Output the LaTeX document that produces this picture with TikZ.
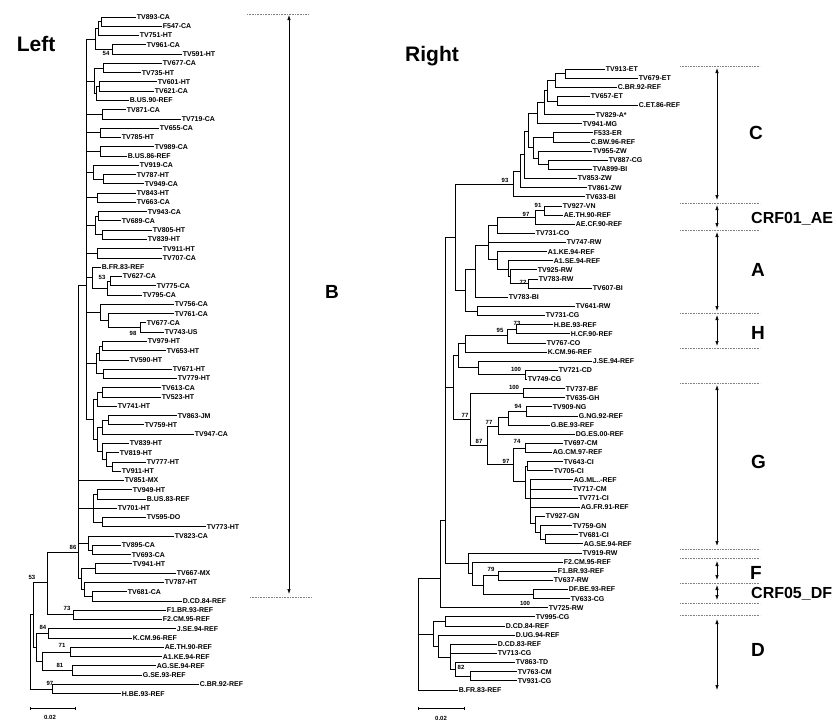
\documentclass[tikz,border=0pt]{standalone}
\usepackage{fontspec}
\setmainfont{Liberation Sans}
\usetikzlibrary{arrows.meta}
\newcommand\LY[1]{(17+9.27*(#1-1))}
\newcommand\RY[1]{(69+9.132*(#1-1))}
\tikzset{
  tip/.style={anchor=west,inner sep=0.7pt,font=\bfseries\fontsize{7}{8}\selectfont},
  boot/.style={inner sep=0pt,font=\bfseries\fontsize{6}{7}\selectfont},
  br/.style={line width=0.9pt},
  brk/.style={line width=0.7pt,{Latex[length=5pt,width=3.5pt]}-{Latex[length=5pt,width=3.5pt]}},
  dots/.style={densely dotted,line width=0.6pt,gray},
  clade/.style={anchor=west,inner sep=0pt,font=\bfseries\fontsize{19}{20}\selectfont},
  cladesm/.style={anchor=west,inner sep=0pt,font=\bfseries\fontsize{16}{18}\selectfont},
  title/.style={inner sep=0pt,font=\bfseries\fontsize{21}{22}\selectfont},
  sbar/.style={line width=0.9pt,{Bar[width=3pt]}-{Bar[width=3pt]}},
  stxt/.style={inner sep=0pt,font=\bfseries\fontsize{6}{7}\selectfont}
}
\begin{document}
\begin{tikzpicture}[x=1pt,y=-1pt]
\useasboundingbox (0,0) rectangle (837,723);
\fill[white] (0,0) rectangle (837,723);
\node[title] (tL) at (36,44) {Left};
\node[title] (tR) at (432,56) {Right};
% ---------------- LEFT TREE ----------------
\foreach \i/\x/\t in {1/136/TV893-CA,2/162/F547-CA,3/139/TV751-HT,4/146/TV961-CA,5/182/TV591-HT,
 6/162/TV677-CA,7/141/TV735-HT,8/157/TV601-HT,9/154/TV621-CA,10/129/B.US.90-REF,
 11/126/TV871-CA,12/181/TV719-CA,13/159/TV655-CA,14/121/TV785-HT,15/154/TV989-CA,
 16/127/B.US.86-REF,17/139/TV919-CA,18/136/TV787-HT,19/144/TV949-CA,20/136/TV843-HT,
 21/136/TV663-CA,22/147/TV943-CA,23/121/TV689-CA,24/152/TV805-HT,25/147/TV839-HT,
 26/162/TV911-HT,27/162/TV707-CA,28/101/B.FR.83-REF,29/122/TV627-CA,30/156/TV775-CA,
 31/142/TV795-CA,32/174/TV756-CA,33/174/TV761-CA,34/146/TV677-CA,35/164/TV743-US,
 36/147/TV979-HT,37/166/TV653-HT,38/129/TV590-HT,39/172/TV671-HT,40/177/TV779-HT,
 41/161/TV613-CA,42/161/TV523-HT,43/117/TV741-HT,44/177/TV863-JM,45/144/TV759-HT,
 46/194/TV947-CA,47/129/TV839-HT,48/119/TV819-HT,49/146/TV777-HT,50/121/TV911-HT,
 51/124/TV851-MX,52/132/TV949-HT,53/146/B.US.83-REF,54/117/TV701-HT,55/146/TV595-DO,
 56/206/TV773-HT,57/174/TV823-CA,58/121/TV895-CA,59/131/TV693-CA,60/132/TV941-HT,
 61/176/TV667-MX,62/164/TV787-HT,63/127/TV681-CA,64/182/D.CD.84-REF,65/166/F1.BR.93-REF,
 66/162/F2.CM.95-REF,67/176/J.SE.94-REF,68/132/K.CM.96-REF,69/164/AE.TH.90-REF,
 70/162/A1.KE.94-REF,71/156/AG.SE.94-REF,72/142/G.SE.93-REF,73/199/C.BR.92-REF,74/121/H.BE.93-REF}
  \node[tip] (L\i) at (\x,{\LY{\i}}) {\t};
\foreach \n/\x/\r in {La1/101/1.5,La2/98/2.25,La3/112/4.5,La4/95/3.4,
 Lb0/103/6.5,Lb1/99/8.5,Lb2/96/9.25,Lb3/94/7.9,
 Lc0/102/11.5,Lc00/100/13.5,Lc01/100/15.5,Lc02/103/18.5,Lc03/93/17.75,Lc04/97/20.5,
 Lc05/98/22.5,Lc06/102/24.5,Lc07/95/23.5,Lc08/97/26.5,Lc1/110/29.5,Ln53/107/30.25,Lc09/92/29.1,
 Ln98/140/34.5,Ld1/108/33.75,Ld2/100/32.9,
 Le1/102/36.5,Le2/99/37.25,Le3/103/39.5,Le4/96/38.4,
 Lf0/102/41.5,Lf00/97/42.25,Lf1/108/44.5,Lf2/102/45.25,Lg1/112/49.5,Lg2/106/48.75,
 Lg3/102/47.9,Lf3/97/46.6,Lf4/93/44.4,LB1/86/30,
 Lh1/97/52.5,Lh2/102/55.5,Lh/93/54,Lj1/92/58.5,Lj/88/57.8,
 Li1/95/60.5,Li2/92/63.5,Li3/84/62.75,Li4/81/61.6,Ln86/78/58.8,
 Ln73/73/65.5,Ln53b/47/62.0,Ln84/48/67.5,Ln71/70/69.5,Ln81/72/71.5,
 Ln7181/42/70.5,LnJKA/36/69.0,Lnup/33/65.5,Ln97/52/73.5,Lroot/30/69.5}
  \coordinate (\n) at (\x,{\LY{\r}});
\foreach \p/\c in {La1/L1,La1/L2,La2/La1,La2/L3,La3/L4,La3/L5,La4/La2,La4/La3,
 Lb0/L6,Lb0/L7,Lb1/L8,Lb1/L9,Lb2/Lb1,Lb2/L10,Lb3/Lb0,Lb3/Lb2,
 Lc0/L11,Lc0/L12,Lc00/L13,Lc00/L14,Lc01/L15,Lc01/L16,Lc02/L18,Lc02/L19,Lc03/L17,Lc03/Lc02,
 Lc04/L20,Lc04/L21,Lc05/L22,Lc05/L23,Lc06/L24,Lc06/L25,Lc07/Lc05,Lc07/Lc06,Lc08/L26,Lc08/L27,
 Lc1/L29,Lc1/L30,Ln53/Lc1,Ln53/L31,Lc09/L28,Lc09/Ln53,
 Ln98/L34,Ln98/L35,Ld1/L33,Ld1/Ln98,Ld2/L32,Ld2/Ld1,
 Le1/L36,Le1/L37,Le2/Le1,Le2/L38,Le3/L39,Le3/L40,Le4/Le2,Le4/Le3,
 Lf0/L41,Lf0/L42,Lf00/Lf0,Lf00/L43,Lf1/L44,Lf1/L45,Lf2/Lf1,Lf2/L46,
 Lg1/L49,Lg1/L50,Lg2/L48,Lg2/Lg1,Lg3/L47,Lg3/Lg2,Lf3/Lf2,Lf3/Lg3,Lf4/Lf00,Lf4/Lf3,
 LB1/La4,LB1/Lb3,LB1/Lc0,LB1/Lc00,LB1/Lc01,LB1/Lc03,LB1/Lc04,LB1/Lc07,LB1/Lc08,LB1/Lc09,
 LB1/Ld2,LB1/Le4,LB1/Lf4,
 Lh1/L52,Lh1/L53,Lh2/L55,Lh2/L56,Lh/Lh1,Lh/L54,Lh/Lh2,Lj1/L58,Lj1/L59,Lj/L57,Lj/Lj1,
 Li1/L60,Li1/L61,Li2/L63,Li2/L64,Li3/L62,Li3/Li2,Li4/Li1,Li4/Li3,
 Ln86/LB1,Ln86/L51,Ln86/Lh,Ln86/Lj,Ln86/Li4,
 Ln73/L65,Ln73/L66,Ln53b/Ln86,Ln53b/Ln73,Ln84/L67,Ln84/L68,Ln71/L69,Ln71/L70,
 Ln81/L71,Ln81/L72,Ln7181/Ln71,Ln7181/Ln81,LnJKA/Ln84,LnJKA/Ln7181,
 Lnup/Ln53b,Lnup/LnJKA,Ln97/L73,Ln97/L74,Lroot/Lnup,Lroot/Ln97}
  \draw[br] (\p) |- (\c);
\foreach \k/\x/\y/\v in {1/106/53/54,2/102/277/53,3/133/333/98,4/73/547/86,5/32/577/53,
 6/67/608/73,7/43/627/84,8/62/645/71,9/60/665/81,10/50/683/97}
  \node[boot] (bl\k) at (\x,\y) {\v};
% B bracket
\coordinate (Bt) at (289,15); \coordinate (Bb) at (289,594);
\coordinate (Bt1) at (247,14); \coordinate (Bt2) at (308,14);
\coordinate (Bb1) at (250,597); \coordinate (Bb2) at (311,597);
\draw[brk] (Bt) -- (Bb);
\draw[dots] (Bt1) -- (Bt2); \draw[dots] (Bb1) -- (Bb2);
\node[clade,anchor=center] (lB) at (332,292) {B};
% left scale
\coordinate (sL1) at (30,708); \coordinate (sL2) at (76,708);
\draw[sbar] (sL1) -- (sL2);
\node[stxt] (sLt) at (50,717) {0.02};
% ---------------- RIGHT TREE ----------------
\foreach \i/\x/\t in {1/605/TV913-ET,2/638/TV679-ET,3/617/C.BR.92-REF,4/590/TV657-ET,5/638/C.ET.86-REF,
 6/595/TV829-A*,7/582/TV941-MG,8/593/F533-ER,9/590/C.BW.96-REF,10/592/TV955-ZW,11/608/TV887-CG,
 12/592/TVA899-BI,13/577/TV853-ZW,14/587/TV861-ZW,15/585/TV633-BI,16/562/TV927-VN,
 17/563/AE.TH.90-REF,18/575/AE.CF.90-REF,19/535/TV731-CO,20/566/TV747-RW,21/547/A1.KE.94-REF,
 22/553/A1.SE.94-REF,23/537/TV925-RW,24/538/TV783-RW,25/592/TV607-BI,26/508/TV783-BI,
 27/575/TV641-RW,28/545/TV731-CG,29/553/H.BE.93-REF,30/570/H.CF.90-REF,31/546/TV767-CO,
 32/547/K.CM.96-REF,33/592/J.SE.94-REF,34/558/TV721-CD,35/527/TV749-CG,36/565/TV737-BF,
 37/565/TV635-GH,38/552/TV909-NG,39/578/G.NG.92-REF,40/550/G.BE.93-REF,41/575/DG.ES.00-REF,
 42/563/TV697-CM,43/552/AG.CM.97-REF,44/563/TV643-CI,45/553/TV705-CI,46/573/AG.ML..-REF,
 47/572/TV717-CM,48/578/TV771-CI,49/580/AG.FR.91-REF,50/545/TV927-GN,51/572/TV759-GN,
 52/578/TV681-CI,53/583/AG.SE.94-REF,54/582/TV919-RW,55/563/F2.CM.95-REF,56/557/F1.BR.93-REF,
 57/553/TV637-RW,58/568/DF.BE.93-REF,59/570/TV633-CG,60/548/TV725-RW,61/535/TV995-CG,
 62/505/D.CD.84-REF,63/515/D.UG.94-REF,64/497/D.CD.83-REF,65/497/TV713-CG,66/515/TV863-TD,
 67/517/TV763-CM,68/517/TV931-CG,69/458/B.FR.83-REF}
  \node[tip] (R\i) at (\x,{\RY{\i}}) {\t};
\foreach \n/\x/\r in {Rr1/565/1.5,Rr2/555/2.25,Rr3/557/4.5,Rr4/547/3.4,Rr5/544/4.7,Rr6/537/5.9,
 Rr7/553/8.5,Rr8/548/11.5,Rr9/538/10.75,Rr10/533/9.6,Rr12/528/7.8,Rr11/524/10.4,Rr13/520/12.2,
 Rr14/513/13.6,Rn91/544/16.5,Rn97/535/17.25,Rr16/497/18.1,Rn72/528/24.5,Rs1/510/23.75,
 Rs2/508/22.9,Rs3/497/21.9,Rs4/488/20.3,Rs5/475/23,Rs6/477/27.5,Rs7/465/25.2,Rr15/455/19.4,
 Rn73/516/29.5,Rn95/507/30.2,Rt1/465/31.1,Rn100a/525/34.5,Rt2/478/33.7,Rt3/458/32.4,
 Rn100b/523/36.5,Rn94/526/38.5,Rg1/508/39.2,Rg2/498/40.1,Rn74/525/42.5,Ru1/527/44.5,
 Ru3/545/52.5,Ru4/540/51.7,Ru5/535/50.8,Ru6/530/48,Ru7/525/46.2,Rn97b/513/44.3,Rn87/487/42.2,
 Rn77a/470/39.4,Rv1/453/35.9,Rn79/498/56.5,Rn100c/533/58.5,Rw1/483/57.5,Rw2/472/56.2,
 Rw3/468/55.1,RvA/445/50.4,Rv3/440/56.8,Rd1/445/61.5,Rn82/470/67.5,Rd2/455/66.8,Rd3/450/65.4,
 Rd4/438/64.2,Rd5/433/62.9,Rroot/418/62}
  \coordinate (\n) at (\x,{\RY{\r}});
\foreach \p/\c in {Rr1/R1,Rr1/R2,Rr2/Rr1,Rr2/R3,Rr3/R4,Rr3/R5,Rr4/Rr2,Rr4/Rr3,Rr5/Rr4,Rr5/R6,
 Rr6/Rr5,Rr6/R7,Rr7/R8,Rr7/R9,Rr8/R11,Rr8/R12,Rr9/R10,Rr9/Rr8,Rr10/Rr7,Rr10/Rr9,
 Rr12/Rr6,Rr12/Rr10,Rr11/Rr12,Rr11/R13,Rr13/Rr11,Rr13/R14,Rr14/Rr13,Rr14/R15,
 Rn91/R16,Rn91/R17,Rn97/Rn91,Rn97/R18,Rr16/Rn97,Rr16/R19,Rn72/R24,Rn72/R25,Rs1/R23,Rs1/Rn72,
 Rs2/R22,Rs2/Rs1,Rs3/R21,Rs3/Rs2,Rs4/Rr16,Rs4/R20,Rs4/Rs3,Rs5/Rs4,Rs5/R26,Rs6/R27,Rs6/R28,
 Rs7/Rs5,Rs7/Rs6,Rr15/Rr14,Rr15/Rs7,
 Rn73/R29,Rn73/R30,Rn95/Rn73,Rn95/R31,Rt1/Rn95,Rt1/R32,Rn100a/R34,Rn100a/R35,Rt2/R33,Rt2/Rn100a,
 Rt3/Rt1,Rt3/Rt2,Rn100b/R36,Rn100b/R37,Rn94/R38,Rn94/R39,Rg1/Rn94,Rg1/R40,Rg2/Rg1,Rg2/R41,
 Rn74/R42,Rn74/R43,Ru1/R44,Ru1/R45,Ru3/R52,Ru3/R53,Ru4/R51,Ru4/Ru3,Ru5/R50,Ru5/Ru4,
 Ru6/R46,Ru6/R47,Ru6/R48,Ru6/R49,Ru6/Ru5,Ru7/Ru1,Ru7/Ru6,Rn97b/Rn74,Rn97b/Ru7,
 Rn87/Rg2,Rn87/Rn97b,Rn77a/Rn100b,Rn77a/Rn87,Rv1/Rt3,Rv1/Rn77a,
 Rn79/R56,Rn79/R57,Rn100c/R58,Rn100c/R59,Rw1/Rn79,Rw1/Rn100c,Rw2/R55,Rw2/Rw1,Rw3/R54,Rw3/Rw2,
 RvA/Rr15,RvA/Rv1,RvA/Rw3,Rv3/RvA,Rv3/R60,
 Rd1/R61,Rd1/R62,Rn82/R67,Rn82/R68,Rd2/R66,Rd2/Rn82,Rd3/R64,Rd3/R65,Rd3/Rd2,Rd4/R63,Rd4/Rd3,
 Rd5/Rd1,Rd5/Rd4,Rroot/Rv3,Rroot/Rd5,Rroot/R69}
  \draw[br] (\p) |- (\c);
\foreach \k/\x/\y/\v in {1/505/180/93,2/538/205/91,3/526/214/97,4/523/282/72,5/517/323/73,
 6/500/330/95,7/516/369/100,8/514/387/100,9/518/406/94,10/465/415/77,11/489/422/77,
 12/479/441/87,13/517/441/74,14/506/461/97,15/491/569/79,16/525/603/100,17/461/667/82}
  \node[boot] (br\k) at (\x,\y) {\v};
% right scale
\coordinate (sR1) at (418,708); \coordinate (sR2) at (465,708);
\draw[sbar] (sR1) -- (sR2);
\node[stxt] (sRt) at (441,718) {0.02};
% right brackets
\foreach \n/\a/\b in {C/68/200,AE/205/228,A/232/311,H/315/346,G/385/546,F/561/580,DF/585/600,D/619/690}{
  \coordinate (k\n1) at (717,\a); \coordinate (k\n2) at (717,\b);
  \draw[brk] (k\n1) -- (k\n2);
}
\foreach \k/\y in {1/66,2/203,3/230,4/313,5/348,6/383,7/549,8/558,9/583,10/603,11/615}{
  \coordinate (q\k a) at (680,\y); \coordinate (q\k b) at (760,\y);
  \draw[dots] (q\k a) -- (q\k b);
}
\node[clade] (lC) at (749,133) {C};
\node[cladesm] (lAE) at (751,219) {CRF01\_AE};
\node[clade] (lA) at (751,270) {A};
\node[clade] (lH) at (751,333) {H};
\node[clade] (lG) at (751,462) {G};
\node[clade] (lF) at (750,573) {F};
\node[cladesm] (lDF) at (751,594) {CRF05\_DF};
\node[clade] (lD) at (751,650) {D};
\end{tikzpicture}
\end{document}
